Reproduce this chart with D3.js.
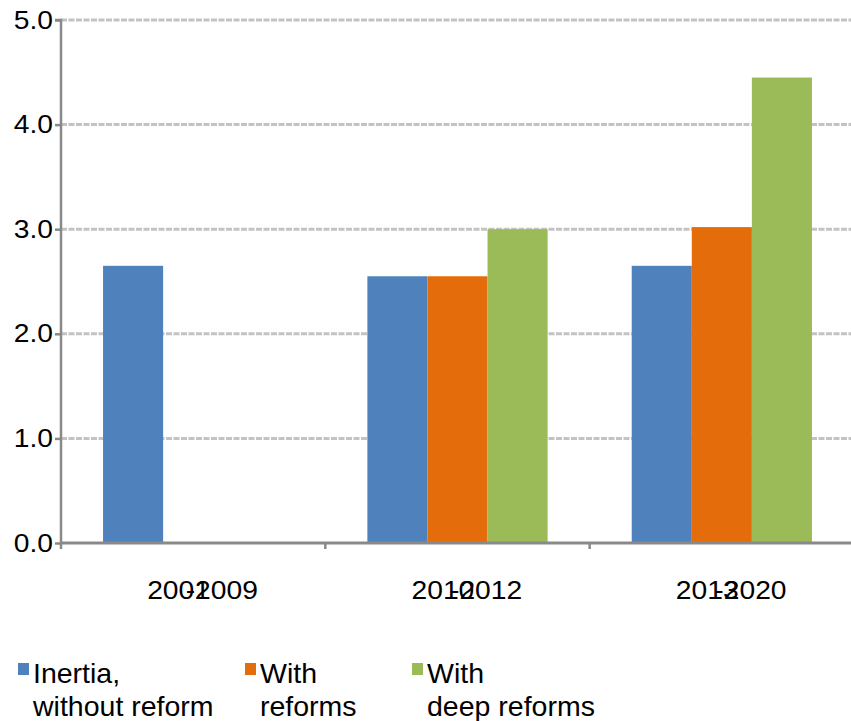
<!DOCTYPE html>
<html>
<head>
<meta charset="utf-8">
<script src="https://cdn.jsdelivr.net/npm/d3@7"></script>
<style>
  html, body { margin: 0; padding: 0; background: #fff; }
  svg { display: block; font-family: "Liberation Sans", Arial, sans-serif; }
</style>
</head>
<body>
<svg id="chart" width="851" height="721"></svg>
<script>
// Periods on the x axis (each label is drawn as start part + end part)
const periods = ["2001-2009", "2010-2012", "2013-2020"];
const periodStart = ["2001", "2010", "2013"];
const periodEnd = ["-2009", "-2012", "-2020"];

// Scenarios and their values per period (0 = no bar)
const scenarios = ["Inertia, without reform", "With reforms", "With deep reforms"];
const inertia = [2.65, 2.55, 2.65];
const reforms = [0, 2.55, 3.02];
const deepReforms = [0, 3.0, 4.45];

// Y axis ticks
const yTicks = [0, 1, 2, 3, 4, 5];

const colors = ["#4f81bd", "#e46c0a", "#9bbb59"];
const legendLines = [["Inertia,", "without reform"], ["With", "reforms"], ["With", "deep reforms"]];

const svg = d3.select("#chart");
const plotLeft = 61, plotRight = 854, plotTop = 20, plotBottom = 543;
const stretch = 1.13; // axis lettering is slightly wide

const x0 = d3.scaleBand().domain(periods).range([plotLeft, plotRight]).padding(0);
const x1 = d3.scaleBand().domain(scenarios).range([0, x0.bandwidth()])
  .paddingInner(0).paddingOuter(0.7);
const y = d3.scaleLinear().domain([0, 5]).range([plotBottom, plotTop]);

const series = [inertia, reforms, deepReforms];

// Horizontal dashed gridlines
svg.append("g").selectAll("line")
  .data(yTicks.filter(d => d > 0))
  .join("line")
  .attr("x1", plotLeft).attr("x2", 851)
  .attr("y1", d => y(d)).attr("y2", d => y(d))
  .attr("stroke", "#c3c3c3").attr("stroke-width", 3)
  .attr("stroke-dasharray", "6,1.5");

// Bars
const groups = svg.append("g").selectAll("g")
  .data(periods)
  .join("g")
  .attr("transform", d => `translate(${x0(d)},0)`);

groups.selectAll("rect")
  .data((p, i) => scenarios.map((s, k) => ({ s, k, v: series[k][i] })))
  .join("rect")
  .attr("x", d => x1(d.s))
  .attr("width", x1.bandwidth())
  .attr("y", d => y(d.v))
  .attr("height", d => y(0) - y(d.v))
  .attr("fill", d => colors[d.k]);

// Y axis
const yAxis = d3.axisLeft(y).tickValues(yTicks).tickFormat(d3.format(".1f"))
  .tickSize(6).tickPadding(3);
const gy = svg.append("g").attr("transform", `translate(${plotLeft},0)`).call(yAxis);
gy.select(".domain").attr("stroke", "#898989").attr("stroke-width", 2.5)
  .attr("d", `M-6,${plotTop}H0V${plotBottom}`);
gy.selectAll(".tick line").attr("stroke", "#898989").attr("stroke-width", 2.5);
gy.selectAll(".tick text")
  .attr("x", -8 / stretch)
  .attr("transform", `scale(${stretch},1)`)
  .attr("font-size", 25).attr("fill", "#000")
  .attr("font-family", "Liberation Sans, Arial, sans-serif");

// X axis
const xAxis = d3.axisBottom(x0).tickSize(0).tickFormat("");
const gx = svg.append("g").attr("transform", `translate(0,${plotBottom})`).call(xAxis);
gx.select(".domain").attr("stroke", "#898989").attr("stroke-width", 3)
  .attr("d", `M${plotLeft},0H851`);
gx.selectAll(".tick").remove();
// Boundary ticks between period bands
gx.selectAll("line.sep")
  .data(periods.map(p => x0(p)).concat([x0(periods[2]) + x0.bandwidth()]))
  .join("line")
  .attr("class", "sep")
  .attr("x1", d => d).attr("x2", d => d)
  .attr("y1", 0).attr("y2", 6)
  .attr("stroke", "#898989").attr("stroke-width", 2.5);

// Period labels
const xl = svg.append("g").selectAll("g")
  .data(periods)
  .join("g")
  .attr("transform", d => `translate(${x0(d) + x0.bandwidth() / 2 - 46},599) scale(${stretch},1)`)
  .append("text")
  .attr("font-size", 25)
  .attr("fill", "#000");
xl.append("tspan").text((d, i) => periodStart[i]);
xl.append("tspan").attr("dx", -21.5).text((d, i) => periodEnd[i]);

// Legend
const legendX = [18, 245, 412];
const lg = svg.append("g").selectAll("g")
  .data(scenarios)
  .join("g")
  .attr("transform", (d, i) => `translate(${legendX[i]},0)`);
lg.append("rect")
  .attr("x", 0).attr("y", 663).attr("width", 11).attr("height", 12)
  .attr("fill", (d, i) => colors[i]);
lg.each(function (d, i) {
  const t = d3.select(this).append("text")
    .attr("font-size", 28.5).attr("fill", "#000");
  legendLines[i].forEach((line, j) => {
    t.append("tspan").attr("x", 15).attr("y", 683 + j * 33).text(line);
  });
});
</script>
</body>
</html>
